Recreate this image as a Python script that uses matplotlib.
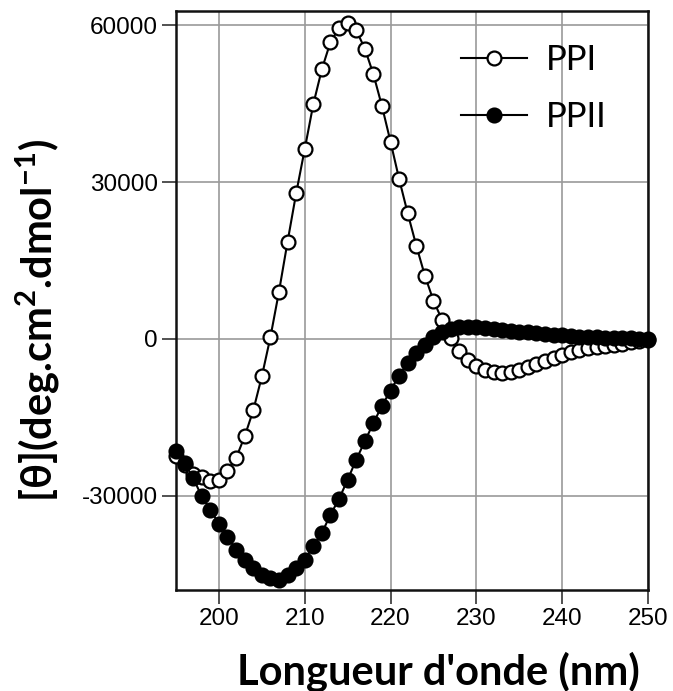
import matplotlib
matplotlib.use("Agg")
import matplotlib.pyplot as plt

plt.rcParams["mathtext.fontset"] = "custom"
plt.rcParams["mathtext.rm"] = "Lato:bold"
plt.rcParams["mathtext.bf"] = "Lato:bold"
plt.rcParams["mathtext.default"] = "bf"

wavelength = list(range(195, 251))

ppi = [-22500, -24200, -25800, -26430, -27140, -26950, -25230, -22800, -18670, -13700,
       -7200, 320, 9040, 18590, 27840, 36300, 44900, 51600, 56800, 59500,
       60450, 59050, 55550, 50640, 44530, 37700, 30580, 24020, 17830, 12100,
       7320, 3630, 200, -2230, -4010, -5160, -5920, -6250, -6440, -6250,
       -5920, -5410, -4780, -4200, -3570, -3060, -2540, -2100, -1780, -1470,
       -1340, -1150, -900, -650, -400, -200]

ppii = [-21530, -23760, -26620, -30140, -32680, -35350, -37900, -40320, -42230, -43820,
        -45100, -45730, -46060, -45100, -43820, -42230, -39690, -37130, -33630, -30630,
        -26950, -23120, -19620, -16110, -12800, -9880, -7010, -4640, -2730, -1100,
        300, 1350, 1900, 2200, 2300, 2250, 2100, 1900, 1700, 1550,
        1400, 1250, 1100, 950, 800, 650, 550, 450, 380, 320,
        260, 200, 150, 100, 50, 0]

xticks = [200, 210, 220, 230, 240, 250]
yticks = [-30000, 0, 30000, 60000]
series_labels = ["PPI", "PPII"]

fig = plt.figure(figsize=(6.73, 6.91), dpi=100)
ax = fig.add_axes([176/673, 1-590/691, 472/673, 579/691])

ax.plot(wavelength, ppi, color="black", lw=1.5, marker="o", ms=10,
        mfc="white", mec="black", mew=1.6, clip_on=False, zorder=3, label=series_labels[0])
ax.plot(wavelength, ppii, color="black", lw=1.5, marker="o", ms=10,
        mfc="black", mec="black", mew=1.6, clip_on=False, zorder=4, label=series_labels[1])

ax.set_xlim(195, 250)
ax.set_ylim(-48050, 62730)
ax.set_xticks(xticks)
ax.set_yticks(yticks)
ax.set_xticklabels([str(t) for t in xticks], fontfamily="Liberation Sans", fontsize=17.5)
ax.set_yticklabels([str(t) for t in yticks], fontfamily="Liberation Sans", fontsize=17.5)
ax.tick_params(direction="out", length=10, width=1.2, color="#333333", pad=3)
ax.grid(True, color="#9a9a9a", lw=1.2)
ax.set_axisbelow(True)
for s in ax.spines.values():
    s.set_linewidth(1.8)
    s.set_color("#111111")

leg = ax.legend(loc="upper left", bbox_to_anchor=(461/673, 1-44/691),
                bbox_transform=fig.transFigure, frameon=False,
                prop={"family": "Lato", "size": 25}, handlelength=1.9,
                handletextpad=0.55, labelspacing=0.72, borderpad=0, borderaxespad=0)

fig.text(438/673, 1-684/691, "Longueur d'onde (nm)", ha="center", va="baseline",
         fontsize=30, fontweight="bold", family=["Lato", "DejaVu Sans"])
fig.text(38/673, 1-320/691, r"[θ](deg.cm$^{2}$.dmol$^{-1}$)", ha="center", va="center",
         rotation=90, fontsize=30, fontweight="bold", family=["Lato", "DejaVu Sans"])

fig.savefig("out.png", dpi=100)
